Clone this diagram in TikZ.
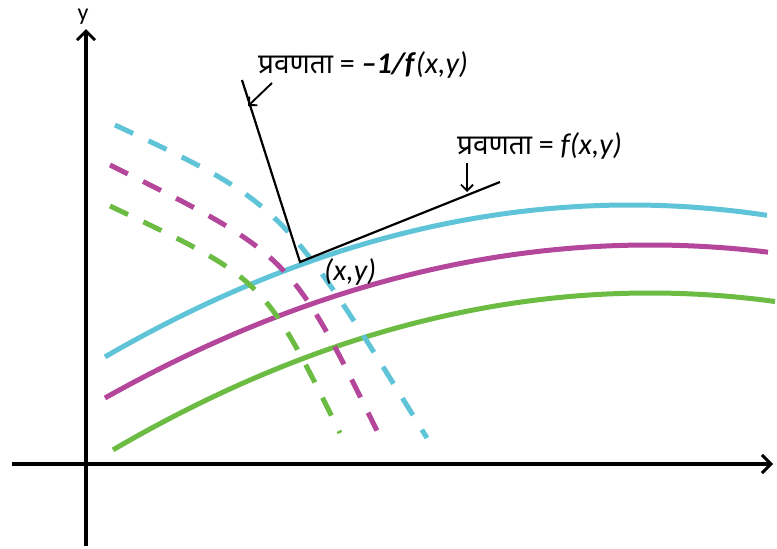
\documentclass[tikz,border=0pt]{standalone}
\usepackage{fontspec}
\setmainfont{Carlito}
\newfontfamily\dev[Script=Devanagari]{Noto Sans}
\usetikzlibrary{arrows.meta}
\definecolor{cy}{RGB}{95,196,216}
\definecolor{mg}{RGB}{180,70,155}
\definecolor{gr}{RGB}{108,188,68}
\begin{document}
\begin{tikzpicture}[x=1pt,y=-1pt,
  axis/.style={line width=3.2pt,-{Straight Barb[length=9pt,width=18pt,line width=3pt]}},
  solidc/.style={line width=5pt},
  dashc/.style={line width=5pt,dash pattern=on 20pt off 17pt},
  blk/.style={line width=2.2pt},
  pointer/.style={line width=1.9pt,-{Straight Barb[length=6pt,width=12pt,line width=1.9pt]}},
  lbl/.style={font=\fontsize{30}{34}\selectfont,inner sep=0pt}]
\useasboundingbox (0,0) rectangle (777,549);
% axes
\coordinate (xs) at (12,464);
\coordinate (xe) at (773,464);
\coordinate (ys) at (86,546);
\coordinate (ye) at (86,29);
\draw[axis] (xs) -- (xe);
\draw[axis] (ys) -- (ye);
\node[lbl,font=\fontsize{24}{28}\selectfont,anchor=base] (ylab) at (83,20) {y};
% solid curves
\draw[solidc,cy] plot[domain=105:767,samples=60,smooth] (\x,{205+551*((\x-630)/1000)^2});
\draw[solidc,mg] plot[domain=105:768,samples=60,smooth] (\x,{245+515*((\x-650)/1000)^2});
\draw[solidc,gr] plot[domain=113:775,samples=60,smooth] (\x,{293+544*((\x-650)/1000)^2});
% dashed curves
\draw[dashc,cy] (115,125) .. controls (283,204) .. (427,438);
\draw[dashc,mg] (110,165) .. controls (291,255) .. (380,437);
\draw[dashc,gr] (110,206) .. controls (264,279) .. (340,433);
% tangent and normal
\coordinate (P) at (300,262);
\coordinate (N) at (242,80);
\coordinate (T) at (500,182);
\draw[blk] (N) -- (P) -- (T);
% labels
\node[lbl,anchor=base west] (l1) at (258,73) {{\dev\fontsize{28}{32}\selectfont प्रवणता} = \textbf{\textit{–1/f}}\textit{(x,y)}};
\node[lbl,anchor=base west] (l2) at (457,154) {{\dev\fontsize{28}{32}\selectfont प्रवणता} = \textit{f(x,y)}};
\node[lbl,anchor=base west] (pl) at (324,280) {\textit{(x,y)}};
\coordinate (a1s) at (272,83);
\coordinate (a1e) at (248,106);
\coordinate (a2s) at (467,163);
\coordinate (a2e) at (467,192);
\draw[pointer] (a1s) -- (a1e);
\draw[pointer] (a2s) -- (a2e);
\end{tikzpicture}
\end{document}
